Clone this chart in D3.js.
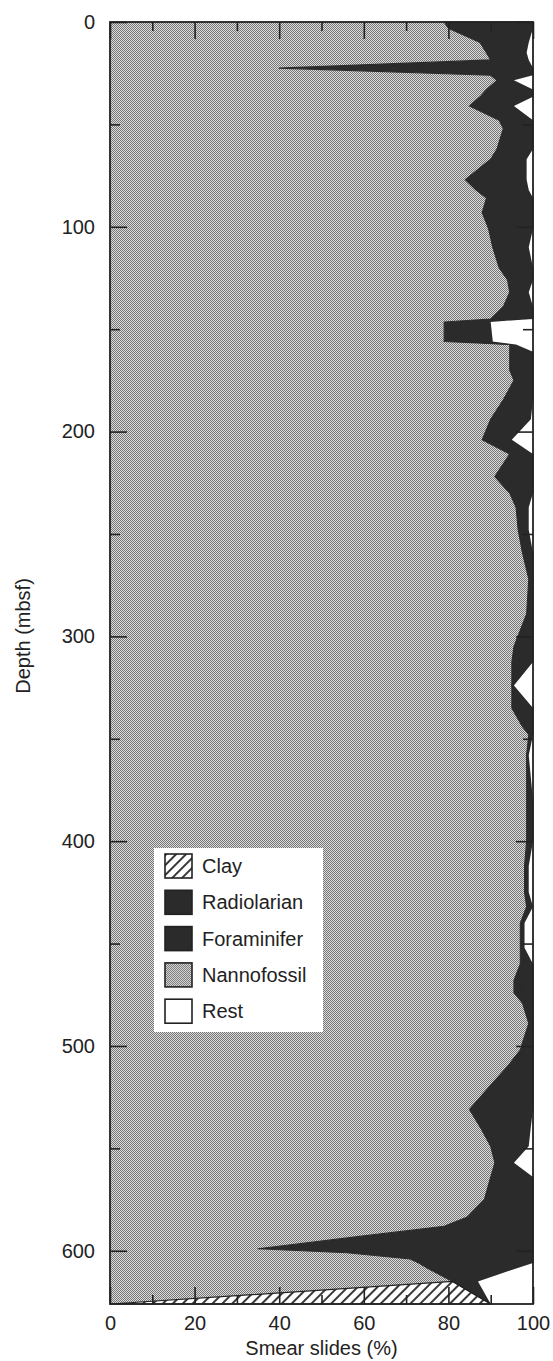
<!DOCTYPE html>
<html>
<head>
<meta charset="utf-8">
<script src="https://cdn.jsdelivr.net/npm/d3@7"></script>
<style>
  html, body { margin: 0; padding: 0; background: #fff; }
  svg { display: block; }
  text { font-family: "Liberation Sans", Arial, Helvetica, sans-serif; fill: #222; }
</style>
</head>
<body>
<svg id="chart" width="553" height="1361"></svg>
<script>
// Smear-slide composition (%) against depth (mbsf)
const depths = [0, 3, 10, 15, 18.5, 22.5, 26, 28.5, 33, 36.5, 41, 48, 52, 62, 67, 77, 82, 86, 93, 101,
  110, 120, 126, 132, 139, 145, 146.5, 156, 157.5, 161, 170, 175, 184.5, 194, 204, 211, 222, 230, 237, 248,
  259, 272, 289, 297, 305, 312.5, 324, 335, 344, 348, 358, 380, 400, 412, 425, 432, 440, 452, 460, 468,
  474, 479, 489, 498.5, 502, 510, 518, 531, 539.5, 549, 557, 564, 575, 583.5, 588, 593, 599, 601, 604, 606,
  609, 615, 626];
const nannofossil = [79, 80, 87.5, 89, 90, 40, 90, 91.5, 89, 87.5, 85, 92, 93, 91.5, 90, 84, 86.5, 89, 88, 89.5,
  90.5, 92, 94, 94.5, 93, 90, 79, 79, 94.5, 94.5, 94.5, 95.5, 93, 90, 88, 94.5, 91, 94.5, 96, 96.5,
  97.5, 99, 98.5, 97, 95.5, 95, 95, 95, 97.5, 99, 98.5, 98.5, 98.5, 98, 98, 98.5, 97, 97, 97, 95.5,
  95.5, 97.5, 99, 97.5, 97, 94, 90.5, 85, 87.5, 90, 91, 90, 88.5, 84.5, 79, 59, 35, 56, 71, 73,
  75.5, 81, 0];
const clay = [0, 0, 0, 0, 0, 0, 0, 0, 0, 0, 0, 0, 0, 0, 0, 0, 0, 0, 0, 0,
  0, 0, 0, 0, 0, 0, 0, 0, 0, 0, 0, 0, 0, 0, 0, 0, 0, 0, 0, 0,
  0, 0, 0, 0, 0, 0, 0, 0, 0, 0, 0, 0, 0, 0, 0, 0, 0, 0, 0, 0,
  0, 0, 0, 0, 0, 0, 0, 0, 0, 0, 0, 0, 0, 0, 0, 0, 0, 0, 0, 0,
  0, 0, 90];
const radiolarian = [8.5, 8, 4.5, 4, 3.5, 24, 4, 1.5, 4.5, 5, 4, 3, 3, 3.5, 3.5, 6, 5, 4.5, 5, 4,
  3.5, 3, 2.5, 2, 3, 4, 4.5, 4.5, 0.5, 2, 2, 2, 3, 4, 3, 2, 3.5, 2, 1, 1,
  1, 0.5, 0.5, 1, 2, 2, 0, 2, 1, 0.5, 0, 0.5, 0.5, 0.5, 0.5, 0.5, 0.5, 0.5, 1, 2,
  2, 1, 0.5, 1, 1, 2.5, 4, 6, 5, 3.5, 2, 4, 4.5, 6, 8.5, 16.5, 26, 17.5, 11.5, 11,
  8, 2.5, 0];
const foraminifer = [12.5, 12, 7, 5.5, 5.5, 36, 6, 2.5, 6.5, 7.5, 6.5, 5, 4, 5, 5, 8.5, 7.5, 6.5, 7, 6.5,
  5, 5, 3.5, 2.5, 4, 6, 6.5, 7, 1, 3.5, 3.5, 2.5, 4, 5.5, 4, 3.5, 5.5, 3.5, 2, 1.5,
  1.5, 0.5, 1, 2, 2.5, 3, 0.5, 3, 1.5, 0.5, 0.5, 1, 1, 0.5, 0.5, 1, 0.5, 0.5, 2, 2.5,
  2.5, 1.5, 0.5, 1.5, 2, 3.5, 5.5, 9, 7, 5.5, 2.5, 6, 7, 9.5, 12.5, 24.5, 39, 26.5, 17.5, 16,
  12, 3.5, 0];
const rest = [0, 0, 1, 1.5, 1, 0, 0, 4.5, 0, 0, 4.5, 0, 0, 0, 1.5, 1.5, 1, 0, 0, 0,
  1, 0, 0, 1, 0, 0, 10, 9.5, 4, 0, 0, 0, 0, 0.5, 5, 0, 0, 0, 1, 1,
  0, 0, 0, 0, 0, 0, 4.5, 0, 0, 0, 1, 0, 0, 1, 1, 0, 2, 2, 0, 0,
  0, 0, 0, 0, 0, 0, 0, 0, 0.5, 1, 4.5, 0, 0, 0, 0, 0, 0, 0, 0, 0,
  4.5, 13, 10];

const xTicks = [0, 20, 40, 60, 80, 100];
const xMinorTicks = [10, 30, 50, 70, 90];
const yTicks = [0, 100, 200, 300, 400, 500, 600];
const yMinorTicks = [50, 150, 250, 350, 450, 550];

const legendLabels = ["Clay", "Radiolarian", "Foraminifer", "Nannofossil", "Rest"];
const legendKeys = ["clay", "radiolarian", "foraminifer", "nannofossil", "rest"];
// stacking order from the left edge
const stackKeys = ["nannofossil", "clay", "radiolarian", "foraminifer", "rest"];

const svg = d3.select("#chart");
const margin = { left: 110, right: 20, top: 22, bottom: 57 };
const W = 553, H = 1361;

const x = d3.scaleLinear().domain([0, 100]).range([margin.left, W - margin.right]);
const y = d3.scaleLinear().domain([0, 626]).range([margin.top, H - margin.bottom]);

// fill patterns
const defs = svg.append("defs");
const nanno = defs.append("pattern").attr("id", "nanno")
  .attr("patternUnits", "userSpaceOnUse").attr("width", 2).attr("height", 2);
nanno.append("rect").attr("width", 2).attr("height", 2).attr("fill", "#dcdcdc");
nanno.append("rect").attr("x", 0).attr("y", 0).attr("width", 1).attr("height", 1).attr("fill", "#767676");
nanno.append("rect").attr("x", 1).attr("y", 1).attr("width", 1).attr("height", 1).attr("fill", "#767676");

const hatch = defs.append("pattern").attr("id", "hatch")
  .attr("patternUnits", "userSpaceOnUse").attr("width", 7).attr("height", 7)
  .attr("patternTransform", "rotate(45)");
hatch.append("rect").attr("width", 7).attr("height", 7).attr("fill", "#fff");
hatch.append("line").attr("x1", 1).attr("y1", 0).attr("x2", 1).attr("y2", 7)
  .attr("stroke", "#222").attr("stroke-width", 1.8);

const fills = {
  nannofossil: "url(#nanno)",
  clay: "url(#hatch)",
  radiolarian: "#2b2b2b",
  foraminifer: "#2b2b2b",
  rest: "#ffffff"
};

const rows = depths.map((d, i) => ({
  depth: d,
  nannofossil: nannofossil[i],
  clay: clay[i],
  radiolarian: radiolarian[i],
  foraminifer: foraminifer[i],
  rest: rest[i]
}));

const series = d3.stack().keys(stackKeys)(rows);
const area = d3.area()
  .y(d => y(d.data.depth))
  .x0(d => x(d[0]))
  .x1(d => x(d[1]));

const isDark = k => k === "radiolarian" || k === "foraminifer";
svg.append("g").selectAll("path").data(series).join("path")
  .attr("d", area)
  .attr("fill", s => fills[s.key])
  .attr("stroke", s => isDark(s.key) ? "#2b2b2b" : "none")
  .attr("stroke-width", 1.1)
  .attr("stroke-linejoin", "round");

// clay outline
const clayArea = series.find(s => s.key === "clay");
svg.append("path")
  .datum(clayArea.filter(d => d.data.depth >= 615))
  .attr("d", area)
  .attr("fill", "none").attr("stroke", "#222").attr("stroke-width", 1.2);

// frame
svg.append("rect")
  .attr("x", x(0)).attr("y", y(0))
  .attr("width", x(100) - x(0)).attr("height", y(626) - y(0))
  .attr("fill", "none").attr("stroke", "#222").attr("stroke-width", 1.8);

// inward ticks on all four sides
function ticks(axis, values, size, transform) {
  const g = svg.append("g").attr("transform", transform)
    .call(axis.tickValues(values).tickSize(size).tickFormat(""));
  g.select(".domain").remove();
  g.selectAll("line").attr("stroke", "#222").attr("stroke-width", 1.6);
}
ticks(d3.axisRight(y), yTicks, 17, `translate(${x(0)},0)`);
ticks(d3.axisRight(y), yMinorTicks, 10, `translate(${x(0)},0)`);
ticks(d3.axisLeft(y), yTicks, 17, `translate(${x(100)},0)`);
ticks(d3.axisLeft(y), yMinorTicks, 10, `translate(${x(100)},0)`);
ticks(d3.axisBottom(x), xTicks, 17, `translate(0,${y(0)})`);
ticks(d3.axisBottom(x), xMinorTicks, 9, `translate(0,${y(0)})`);
ticks(d3.axisTop(x), xTicks, 17, `translate(0,${y(626)})`);
ticks(d3.axisTop(x), xMinorTicks, 9, `translate(0,${y(626)})`);

// tick labels
const yAxis = svg.append("g").attr("transform", `translate(${x(0)},0)`)
  .call(d3.axisLeft(y).tickValues(yTicks).tickSize(0).tickPadding(15).tickFormat(d3.format("d")));
yAxis.select(".domain").remove();
yAxis.selectAll("text").attr("font-size", 20).attr("font-family", null).style("fill", "#222");

const xAxis = svg.append("g").attr("transform", `translate(0,${y(626)})`)
  .call(d3.axisBottom(x).tickValues(xTicks).tickSize(0).tickPadding(12).tickFormat(d3.format("d")));
xAxis.select(".domain").remove();
xAxis.selectAll("text").attr("font-size", 20).attr("font-family", null).style("fill", "#222");

// axis titles
svg.append("text")
  .attr("x", (x(0) + x(100)) / 2).attr("y", 1355)
  .attr("text-anchor", "middle").attr("font-size", 20)
  .text("Smear slides (%)");
svg.append("text")
  .attr("transform", `translate(30,636) rotate(-90)`)
  .attr("text-anchor", "middle").attr("font-size", 20)
  .text("Depth (mbsf)");

// legend
const lg = svg.append("g").attr("transform", "translate(154,848)");
lg.append("rect").attr("width", 169).attr("height", 184).attr("fill", "#fff");
const item = lg.selectAll("g.item").data(legendKeys).join("g")
  .attr("class", "item")
  .attr("transform", (d, i) => `translate(11,${6 + i * 36.3})`);
item.append("rect").attr("width", 27).attr("height", 24)
  .attr("fill", d => fills[d]).attr("stroke", "#222").attr("stroke-width", 1.6);
item.append("text").attr("x", 37).attr("y", 12).attr("dy", "0.36em")
  .attr("font-size", 20)
  .text((d, i) => legendLabels[i]);
</script>
</body>
</html>
